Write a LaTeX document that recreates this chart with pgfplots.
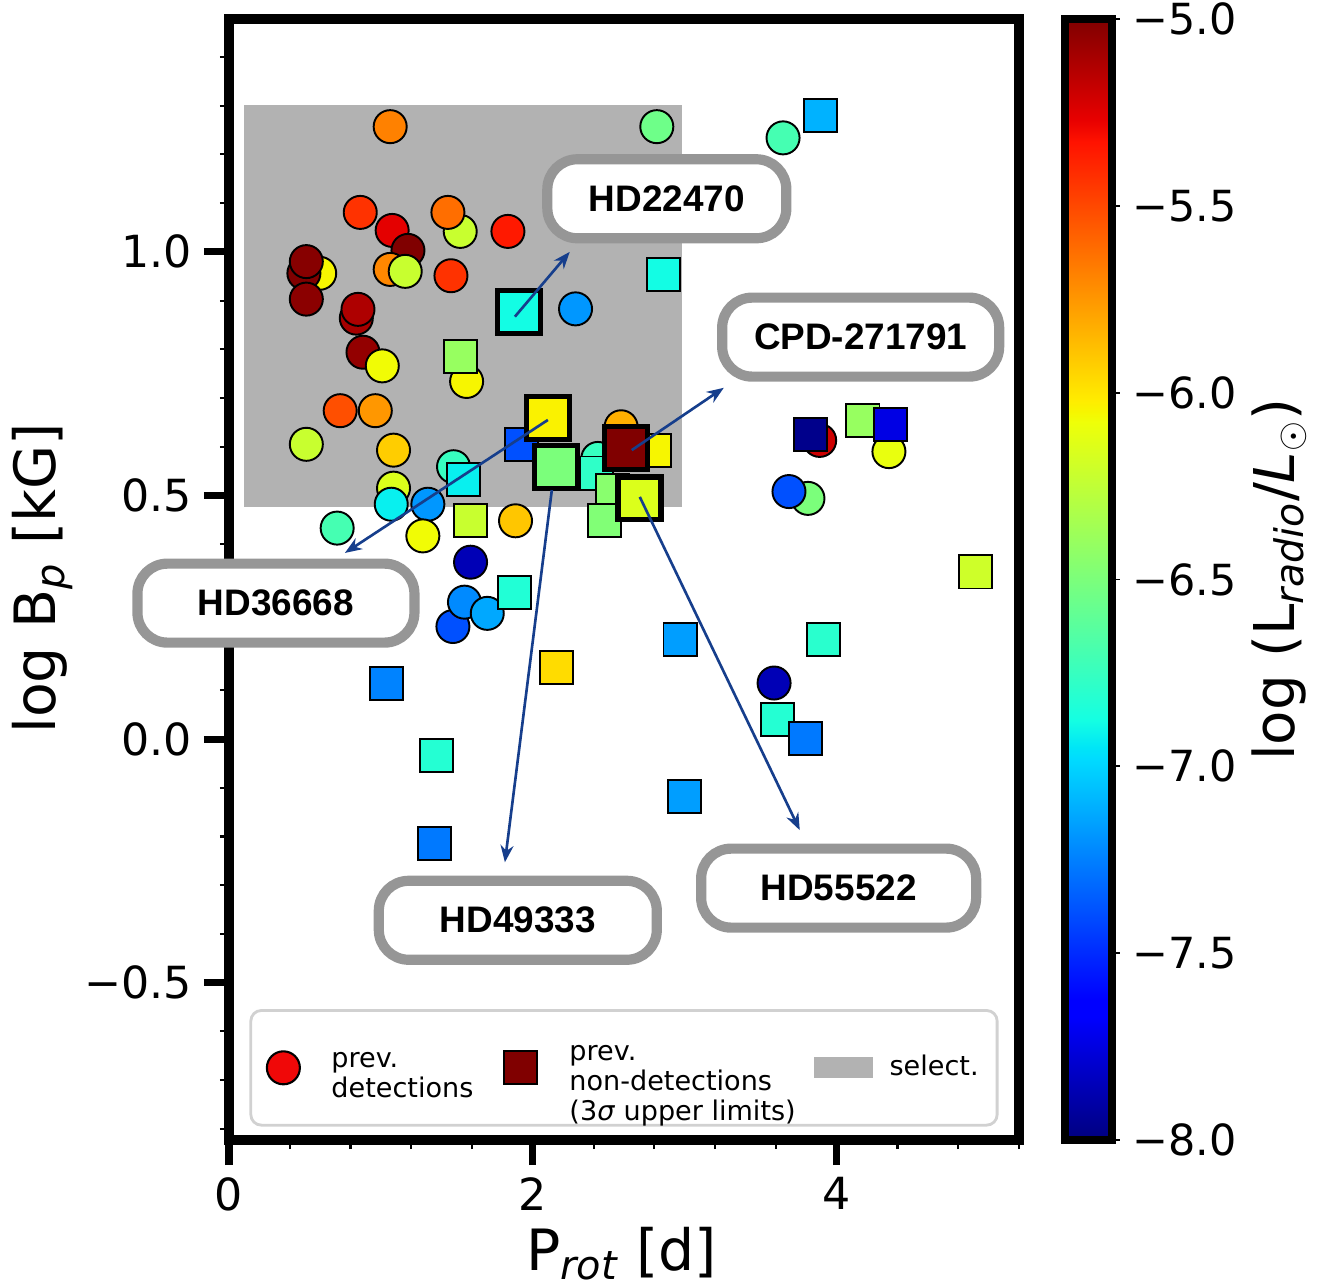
\documentclass[border=0pt]{standalone}
\usepackage{pgfplots}
\pgfplotsset{compat=1.18}
\usepackage{fontspec}
\setmainfont{DejaVu Sans}
\newfontfamily\boxfont{Liberation Sans}
\usetikzlibrary{arrows.meta,shadows}

\definecolor{selgray}{RGB}{178,178,178}
\definecolor{legred}{RGB}{240,8,8}
\definecolor{legmaroon}{RGB}{128,0,0}
\definecolor{arrowblue}{RGB}{22,62,140}
\definecolor{boxgray}{RGB}{150,150,150}

% matplotlib-like jet
\pgfplotsset{
  colormap={mpljet}{rgb(0pt)=(0,0,0.5); rgb(110pt)=(0,0,1); rgb(125pt)=(0,0,1);
    rgb(340pt)=(0,0.86,1); rgb(350pt)=(0,0.9,0.968); rgb(375pt)=(0.081,1,0.887);
    rgb(640pt)=(0.935,1,0.032); rgb(650pt)=(0.968,0.963,0); rgb(660pt)=(1,0.926,0);
    rgb(890pt)=(1,0.074,0); rgb(910pt)=(0.909,0,0); rgb(1000pt)=(0.5,0,0)},
}

\tikzset{
  namebox/.style={draw=boxgray, line width=2.9pt, fill=white, rounded corners=0.3cm,
    minimum height=0.79cm, inner sep=0pt,
    font=\boxfont\bfseries\fontsize{10.5}{12}\selectfont,
    drop shadow={shadow xshift=0.4pt, shadow yshift=-1pt, opacity=0.3}},
  namearrow/.style={arrowblue, line width=0.75pt, -{Stealth[length=0.17cm, width=0.13cm]}},
}
\newcommand{\lgd}[1]{\begin{tabular}{@{}l@{}}#1\end{tabular}}

\begin{document}
\begin{tikzpicture}
\path[use as bounding box] (-2.29,-1.47) rectangle (10.96,11.40);
\begin{axis}[
  at={(0,0)}, anchor=south west,
  scale only axis, width=7.9cm, height=11.21cm,
  xmin=0, xmax=5.2, ymin=-0.823, ymax=1.478,
  axis line style={line width=2.8pt},
  tick align=outside, xtick pos=bottom, ytick pos=left,
  xtick={0,2,4}, xticklabels={0,2,4},
  minor xtick={0.4,0.8,1.2,1.6,2.4,2.8,3.2,3.6,4.4,4.8,5.2},
  ytick={-0.5,0,0.5,1}, yticklabels={−0.5,0.0,0.5,1.0},
  minor ytick={-0.8,-0.7,-0.6,-0.4,-0.3,-0.2,-0.1,0.1,0.2,0.3,0.4,0.6,0.7,0.8,0.9,1.1,1.2,1.3,1.4},
  major tick length=0.25cm, minor tick length=0.09cm,
  major tick style={line width=2pt, black},
  minor tick style={line width=0.6pt, black},
  ticklabel style={font=\fontsize{12.6}{15}\selectfont},
  xlabel={P\textsubscript{\itshape rot} [d]},
  ylabel={log B\textsubscript{\itshape p} [kG]},
  label style={font=\fontsize{16.2}{19}\selectfont},
  xlabel style={at={(axis description cs:0.497,-0.116)}, anchor=base},
  ylabel style={at={(axis description cs:-0.22,0.501)}, anchor=base},
  colormap name=mpljet,
  point meta min=-8, point meta max=-5,
  colorbar,
  colorbar style={
    at={(parent axis.north east)}, anchor=north west, xshift=0.16cm,
    width=0.47cm,
    axis line style={line width=2.2pt},
    ytick={-8,-7.5,-7,-6.5,-6,-5.5,-5},
    yticklabels={−8.0,−7.5,−7.0,−6.5,−6.0,−5.5,−5.0},
    yticklabel style={font=\fontsize{12.2}{14}\selectfont},
    ytick pos=right, tick align=outside,
    major tick length=0.08cm,
    ytick style={line width=0.5pt, black},
    ylabel={log (L\textsubscript{\itshape radio}/\textit{L}\textsubscript{$\odot$})},
    ylabel style={font=\fontsize{16}{19}\selectfont, at={(axis description cs:4.55,0.5)}, anchor=center},
  },
  legend style={
    at={(axis description cs:0.5,0.012)}, anchor=south,
    legend columns=3, fill=white, draw=black!18, line width=0.8pt, rounded corners=3pt,
    font=\fontsize{7.7}{8.6}\selectfont,
    inner xsep=0.15cm, inner ysep=0.25cm,
    nodes={inner sep=1pt},
    /tikz/column 1/.style={column sep=0.27cm},
    /tikz/column 2/.style={column sep=0.26cm},
    /tikz/column 3/.style={column sep=0.28cm},
    /tikz/column 4/.style={column sep=0.15cm},
    /tikz/column 5/.style={column sep=0.13cm},
  },
]
% selection region
\addplot[fill=selgray, draw=none, forget plot] coordinates {(0.1,0.476) (2.98,0.476) (2.98,1.302) (0.1,1.302)};

% previous detections
\addplot[scatter, only marks, mark=*, mark size=4.7pt, point meta=explicit,
  scatter/use mapped color={draw=black, fill=mapped color},
  mark options={line width=0.55pt}, forget plot] table[x=x, y=y, meta=c] {
x y c
1.061 1.257 -5.68
2.816 1.257 -6.55
3.647 1.234 -6.70
0.864 1.081 -5.43
1.074 1.044 -5.26
1.178 1.003 -5.00
1.061 0.964 -5.70
1.160 0.960 -6.22
1.522 1.042 -6.22
1.441 1.081 -5.62
1.836 1.042 -5.35
1.461 0.951 -5.43
0.597 0.956 -6.05
0.493 0.956 -5.00
0.509 0.980 -5.02
0.509 0.903 -5.03
0.838 0.864 -5.10
0.849 0.882 -5.12
0.882 0.794 -5.05
1.009 0.766 -6.07
1.564 0.734 -6.05
2.281 0.883 -7.18
0.732 0.674 -5.52
0.963 0.674 -5.75
0.509 0.605 -6.22
1.083 0.593 -5.92
1.478 0.559 -6.75
1.083 0.515 -6.15
1.068 0.482 -6.92
1.309 0.482 -7.18
2.428 0.576 -6.75
2.581 0.641 -5.83
0.712 0.433 -6.70
1.276 0.417 -6.07
1.886 0.448 -5.90
1.590 0.363 -7.86
1.474 0.231 -7.39
1.550 0.281 -7.22
1.700 0.258 -7.13
3.888 0.613 -5.20
4.344 0.590 -6.10
3.811 0.494 -6.50
3.686 0.508 -7.39
3.588 0.115 -7.86
};

% previous non-detections (upper limits)
\addplot[scatter, only marks, mark=square*, mark size=4.7pt, point meta=explicit,
  scatter/use mapped color={draw=black, fill=mapped color},
  mark options={line width=0.55pt}, forget plot] table[x=x, y=y, meta=c] {
x y c
1.522 0.785 -6.40
2.862 0.953 -6.88
1.923 0.604 -7.39
1.546 0.533 -6.92
2.417 0.546 -6.78
2.800 0.593 -6.05
2.526 0.511 -6.45
1.590 0.448 -6.22
2.471 0.448 -6.48
1.880 0.301 -6.83
2.969 0.205 -7.16
2.158 0.146 -5.97
1.035 0.114 -7.24
1.364 -0.033 -6.82
1.353 -0.214 -7.27
2.998 -0.118 -7.16
3.893 1.280 -7.10
3.829 0.625 -7.97
4.173 0.654 -6.40
4.355 0.645 -7.74
4.914 0.343 -6.20
3.914 0.205 -6.80
3.610 0.040 -6.82
3.796 0.002 -7.27
};

% selected targets
\addplot[scatter, only marks, mark=square*, mark size=6.1pt, point meta=explicit,
  scatter/use mapped color={draw=black, fill=mapped color},
  mark options={line width=1.5pt}, forget plot] table[x=x, y=y, meta=c] {
x y c
1.908 0.876 -6.88
2.099 0.659 -6.04
2.153 0.559 -6.50
2.614 0.597 -5.00
2.702 0.494 -6.15
};

\addlegendimage{legend image code/.code={\draw[sharp corners, fill=legred, draw=black, line width=0.6pt] (0.165cm,0cm) circle (0.165cm);}}
\addlegendentry{\lgd{prev.\\detections}}
\addlegendimage{legend image code/.code={\draw[sharp corners, fill=legmaroon, draw=black, line width=0.6pt] (0cm,-0.165cm) rectangle (0.33cm,0.165cm);}}
\addlegendentry{\lgd{prev.\\non-detections\\(3\textit{σ} upper limits)}}
\addlegendimage{legend image code/.code={\fill[sharp corners, selgray] (0cm,-0.09cm) rectangle (0.56cm,0.09cm);}}
\addlegendentry{\lgd{select.}}

\coordinate (a1s) at (axis cs:1.882,0.867);
\coordinate (a1e) at (axis cs:2.243,1.0);
\coordinate (b1) at (axis cs:2.882,1.109);
\coordinate (a2s) at (axis cs:2.651,0.593);
\coordinate (a2e) at (axis cs:3.257,0.721);
\coordinate (b2) at (axis cs:4.158,0.825);
\coordinate (a3s) at (axis cs:2.099,0.655);
\coordinate (a3e) at (axis cs:0.763,0.382);
\coordinate (b3) at (axis cs:0.309,0.279);
\coordinate (a4s) at (axis cs:2.125,0.511);
\coordinate (a4e) at (axis cs:1.816,-0.253);
\coordinate (b4) at (axis cs:1.901,-0.372);
\coordinate (a5s) at (axis cs:2.704,0.497);
\coordinate (a5e) at (axis cs:3.757,-0.187);
\coordinate (b5) at (axis cs:4.013,-0.306);
\end{axis}

\draw[namearrow] (a1s) -- (a1e);
\draw[namearrow] (a2s) -- (a2e);
\draw[namearrow] (a3s) -- (a3e);
\draw[namearrow] (a4s) -- (a4e);
\draw[namearrow] (a5s) -- (a5e);
\node[namebox, minimum width=2.39cm] at (b1) {HD22470};
\node[namebox, minimum width=2.77cm] at (b2) {CPD-271791};
\node[namebox, minimum width=2.77cm] at (b3) {HD36668};
\node[namebox, minimum width=2.78cm] at (b4) {HD49333};
\node[namebox, minimum width=2.75cm] at (b5) {HD55522};
\end{tikzpicture}
\end{document}
